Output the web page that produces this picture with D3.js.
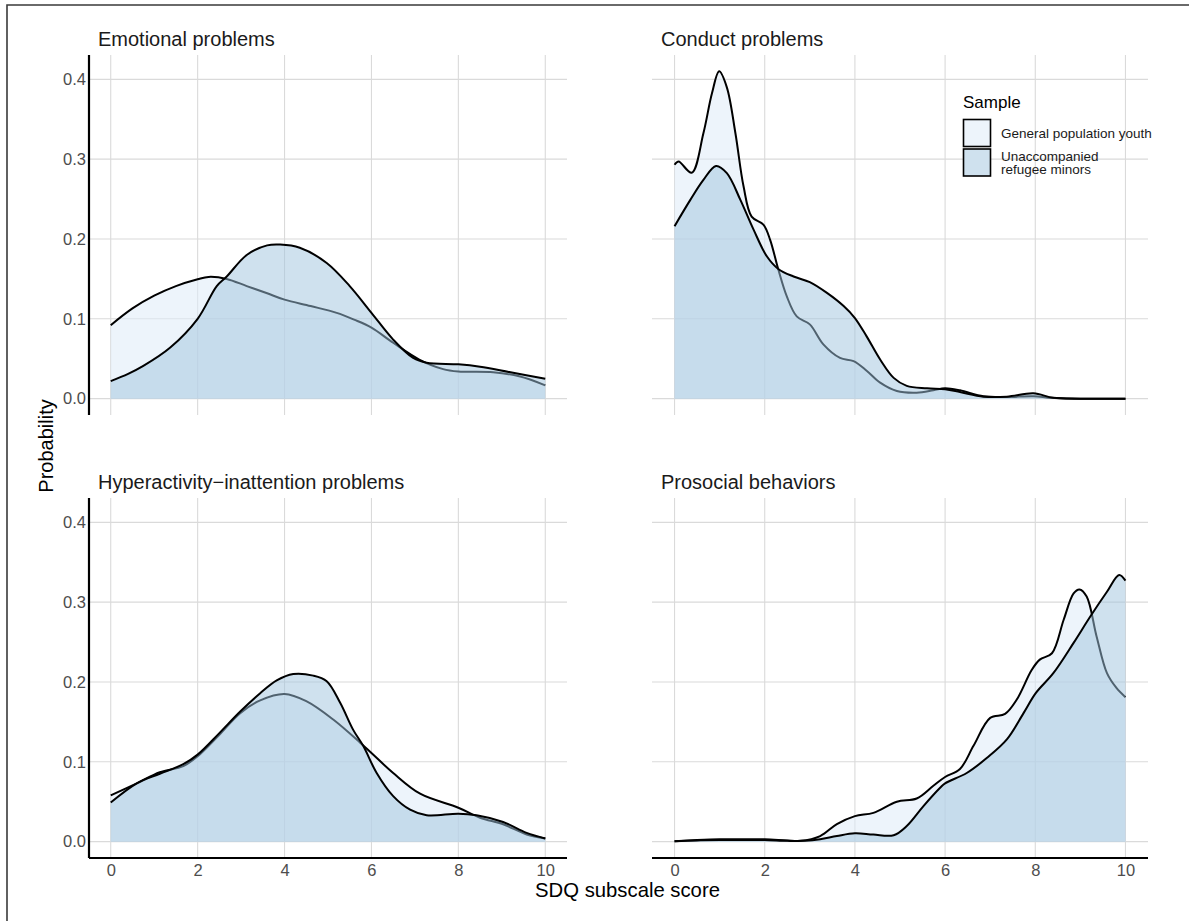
<!DOCTYPE html>
<html>
<head>
<meta charset="utf-8">
<script src="https://cdn.jsdelivr.net/npm/d3@7"></script>
<style>
  html, body { margin: 0; padding: 0; background: #fff; }
  svg { display: block; font-family: "Liberation Sans", Arial, Helvetica, sans-serif; }
</style>
</head>
<body>
<svg id="chart" width="1189" height="921"></svg>
<script>
// ---------- data ----------
const panelTitles = ["Emotional problems", "Conduct problems", "Hyperactivity\u2212inattention problems", "Prosocial behaviors"];
const sampleLabels = ["General population youth", "Unaccompanied refugee minors"];
const xTicks = [0, 2, 4, 6, 8, 10];
const yTicks = [0, 0.1, 0.2, 0.3, 0.4];

// Emotional problems
const emoGenX = [0, 0.5, 1, 1.5, 2, 2.25, 2.67, 3.13, 3.6, 4, 4.6, 5.2, 5.6, 6, 6.5, 7.1, 7.65, 8, 8.8, 9.4, 10];
const emoGenY = [0.092, 0.113, 0.129, 0.141, 0.1495, 0.1525, 0.15, 0.141, 0.132, 0.124, 0.116, 0.1075, 0.099, 0.089, 0.07, 0.049, 0.037, 0.034, 0.033, 0.028, 0.0167];
const emoRefX = [0, 0.4, 0.75, 1.37, 2, 2.44, 2.67, 3.13, 3.6, 3.9, 4.35, 4.97, 5.5, 6, 6.5, 6.96, 7.27, 8, 8.5, 9.2, 10];
const emoRefY = [0.022, 0.031, 0.041, 0.064, 0.1, 0.141, 0.153, 0.18, 0.192, 0.193, 0.189, 0.17, 0.141, 0.1075, 0.074, 0.051, 0.045, 0.043, 0.04, 0.033, 0.025];

// Conduct problems
const conGenX = [0, 0.09, 0.38, 0.64, 0.83, 0.99, 1.16, 1.35, 1.53, 1.71, 1.97, 2.12, 2.3, 2.49, 2.71, 3.0, 3.3, 3.67, 3.97, 4.26, 4.56, 4.93, 5.37, 5.74, 6.0, 6.33, 6.85, 7.37, 7.96, 8.33, 8.85, 10];
const conGenY = [0.293, 0.297, 0.283, 0.3325, 0.3825, 0.41, 0.39, 0.3325, 0.266, 0.228, 0.218, 0.199, 0.162, 0.128, 0.103, 0.093, 0.068, 0.051, 0.047, 0.035, 0.02, 0.0096, 0.0075, 0.0104, 0.013, 0.0104, 0.003, 0.002, 0.003, 0.001, 0, 0];
const conRefX = [0, 0.35, 0.64, 0.92, 1.16, 1.46, 1.75, 2.05, 2.3, 2.64, 3.0, 3.38, 3.75, 4.0, 4.26, 4.56, 4.86, 5.15, 5.6, 6.0, 6.33, 6.85, 7.37, 7.96, 8.4, 9, 10];
const conRefY = [0.216, 0.249, 0.274, 0.2915, 0.2825, 0.249, 0.212, 0.178, 0.1625, 0.153, 0.146, 0.1325, 0.116, 0.101, 0.078, 0.049, 0.026, 0.016, 0.013, 0.0117, 0.0083, 0.0025, 0.0025, 0.0067, 0.001, 0, 0];

// Hyperactivity-inattention problems
const hypGenX = [0, 0.6, 1.13, 1.67, 2, 2.5, 2.98, 3.44, 4, 4.5, 5.12, 5.74, 6, 6.5, 7.12, 8, 8.5, 9.03, 9.57, 10];
const hypGenY = [0.058, 0.073, 0.087, 0.0946, 0.107, 0.134, 0.161, 0.177, 0.185, 0.176, 0.153, 0.124, 0.111, 0.086, 0.06, 0.0425, 0.03, 0.0217, 0.009, 0.004];
const hypRefX = [0, 0.6, 1.13, 1.67, 2, 2.5, 2.98, 3.44, 3.82, 4.2, 4.66, 4.97, 5.28, 5.58, 5.81, 6.12, 6.5, 6.89, 7.27, 8, 8.42, 9.03, 9.57, 10];
const hypRefY = [0.049, 0.073, 0.085, 0.097, 0.109, 0.136, 0.163, 0.186, 0.202, 0.21, 0.208, 0.201, 0.174, 0.14, 0.12, 0.086, 0.057, 0.04, 0.033, 0.035, 0.033, 0.0246, 0.011, 0.004];

// Prosocial behaviors
const proGenX = [0, 0.5, 1, 1.5, 2, 2.5, 2.79, 3.23, 3.6, 4.0, 4.41, 4.93, 5.37, 5.74, 6, 6.33, 6.63, 7, 7.33, 7.59, 7.92, 8.1, 8.37, 8.63, 8.85, 8.98, 9.14, 9.36, 9.59, 9.8, 10];
const proGenY = [0.0005, 0.002, 0.003, 0.003, 0.003, 0.0015, 0.001, 0.007, 0.022, 0.032, 0.036, 0.05, 0.054, 0.07, 0.081, 0.091, 0.12, 0.155, 0.16, 0.178, 0.215, 0.228, 0.236, 0.278, 0.311, 0.316, 0.307, 0.257, 0.211, 0.1925, 0.181];
const proRefX = [0, 0.5, 1, 1.5, 2, 2.5, 2.9, 3.23, 3.6, 4.0, 4.41, 4.86, 5.15, 5.52, 5.89, 6, 6.48, 6.93, 7.37, 7.74, 8.01, 8.4, 8.85, 9.22, 9.59, 9.86, 10];
const proRefY = [0.0005, 0.0015, 0.002, 0.002, 0.002, 0.001, 0.001, 0.003, 0.007, 0.0104, 0.0088, 0.008, 0.0196, 0.0446, 0.0675, 0.073, 0.086, 0.105, 0.128, 0.161, 0.186, 0.211, 0.249, 0.282, 0.313, 0.334, 0.327];

// ---------- layout ----------
const svg = d3.select("#chart");
const W = 1189, H = 921;

const panels = [
  { title: panelTitles[0], left: 89, right: 567, top: 55, bottom: 415, showY: true, showX: false,
    gen: [emoGenX, emoGenY], ref: [emoRefX, emoRefY] },
  { title: panelTitles[1], left: 652, right: 1148, top: 55, bottom: 415, showY: false, showX: false,
    gen: [conGenX, conGenY], ref: [conRefX, conRefY] },
  { title: panelTitles[2], left: 89, right: 567, top: 498, bottom: 858, showY: true, showX: true,
    gen: [hypGenX, hypGenY], ref: [hypRefX, hypRefY] },
  { title: panelTitles[3], left: 652, right: 1148, top: 498, bottom: 858, showY: false, showX: true,
    gen: [proGenX, proGenY], ref: [proRefX, proRefY] }
];

const genFill = "#deebf7", genAlpha = 0.55;
const refFill = "#9fc4dd", refAlpha = 0.5;
const gridColor = "#dadada";

// outer frame
svg.append("path")
  .attr("d", `M7,${H} V5 H${W}`)
  .attr("fill", "none").attr("stroke", "#3a3a3a").attr("stroke-width", 1.6);

panels.forEach(p => {
  const x = d3.scaleLinear().domain([-0.5, 10.5]).range([p.left, p.right]);
  const y = d3.scaleLinear().domain([-0.0205, 0.4305]).range([p.bottom, p.top]);
  const g = svg.append("g");

  // grid
  g.selectAll(".hg").data(yTicks).join("line")
    .attr("x1", p.left).attr("x2", p.right)
    .attr("y1", d => y(d)).attr("y2", d => y(d))
    .attr("stroke", gridColor).attr("stroke-width", 1.1);
  g.selectAll(".vg").data(xTicks).join("line")
    .attr("x1", d => x(d)).attr("x2", d => x(d))
    .attr("y1", p.top).attr("y2", p.bottom)
    .attr("stroke", gridColor).attr("stroke-width", 1.1);

  const toPts = s => s[0].map((v, i) => [v, s[1][i]]);
  const curve = d3.curveCatmullRom.alpha(0.5);
  const area = d3.area().x(d => x(d[0])).y0(y(0)).y1(d => y(d[1])).curve(curve);
  const line = d3.line().x(d => x(d[0])).y(d => y(d[1])).curve(curve);

  const gp = toPts(p.gen), rp = toPts(p.ref);

  g.append("path").attr("d", area(gp)).attr("fill", genFill).attr("fill-opacity", genAlpha);
  g.append("path").attr("d", line(gp)).attr("fill", "none").attr("stroke", "#000").attr("stroke-width", 2);
  g.append("path").attr("d", area(rp)).attr("fill", refFill).attr("fill-opacity", refAlpha);
  g.append("path").attr("d", line(rp)).attr("fill", "none").attr("stroke", "#000").attr("stroke-width", 2);

  // title
  svg.append("text").attr("x", p.left + 9).attr("y", p.top - 9.5)
    .attr("font-size", 20).attr("fill", "#1a1a1a").text(p.title);

  if (p.showY) {
    const ay = svg.append("g").attr("transform", `translate(${p.left},0)`)
      .call(d3.axisLeft(y).tickValues(yTicks).tickFormat(d3.format(".1f")).tickSize(0).tickPadding(3));
    ay.select(".domain").remove();
    ay.selectAll("text").attr("font-size", 16.5).attr("fill", "#4d4d4d")
      .attr("font-family", "'Liberation Sans', Arial, sans-serif");
    svg.append("line").attr("x1", p.left).attr("x2", p.left).attr("y1", p.top).attr("y2", p.bottom)
      .attr("stroke", "#000").attr("stroke-width", 2.2);
  }
  if (p.showX) {
    const ax = svg.append("g").attr("transform", `translate(0,${p.bottom})`)
      .call(d3.axisBottom(x).tickValues(xTicks).tickFormat(d3.format("d")).tickSize(0).tickPadding(6));
    ax.select(".domain").remove();
    ax.selectAll("text").attr("font-size", 16.5).attr("fill", "#4d4d4d")
      .attr("font-family", "'Liberation Sans', Arial, sans-serif");
    svg.append("line").attr("x1", p.left).attr("x2", p.right).attr("y1", p.bottom).attr("y2", p.bottom)
      .attr("stroke", "#000").attr("stroke-width", 2.2);
  }
});

// axis titles
svg.append("text").attr("x", 627.5).attr("y", 897).attr("text-anchor", "middle")
  .attr("font-size", 20.3).attr("fill", "#000").text("SDQ subscale score");
svg.append("text").attr("transform", "translate(53,446) rotate(-90)").attr("text-anchor", "middle")
  .attr("font-size", 20).attr("fill", "#000").text("Probability");

// legend
const lg = svg.append("g");
lg.append("text").attr("x", 963).attr("y", 108).attr("font-size", 17).attr("fill", "#000").text("Sample");
const keys = [
  { y: 119.5, fill: genFill, a: genAlpha, lines: [sampleLabels[0]] },
  { y: 149, fill: refFill, a: refAlpha, lines: ["Unaccompanied", "refugee minors"] }
];
keys.forEach(k => {
  lg.append("rect").attr("x", 963.5).attr("y", k.y).attr("width", 27).attr("height", 27)
    .attr("fill", "#fff");
  lg.append("rect").attr("x", 963.5).attr("y", k.y).attr("width", 27).attr("height", 27)
    .attr("fill", k.fill).attr("fill-opacity", k.a).attr("stroke", "#000").attr("stroke-width", 1.6);
  const t = lg.append("text").attr("x", 1001).attr("font-size", 13.5).attr("fill", "#1a1a1a");
  if (k.lines.length === 1) {
    t.attr("y", k.y + 18.5).text(k.lines[0]);
  } else {
    t.attr("y", k.y + 11.5);
    k.lines.forEach((l, i) => t.append("tspan").attr("x", 1001).attr("dy", i === 0 ? 0 : 13.5).text(l));
  }
});
</script>
</body>
</html>
